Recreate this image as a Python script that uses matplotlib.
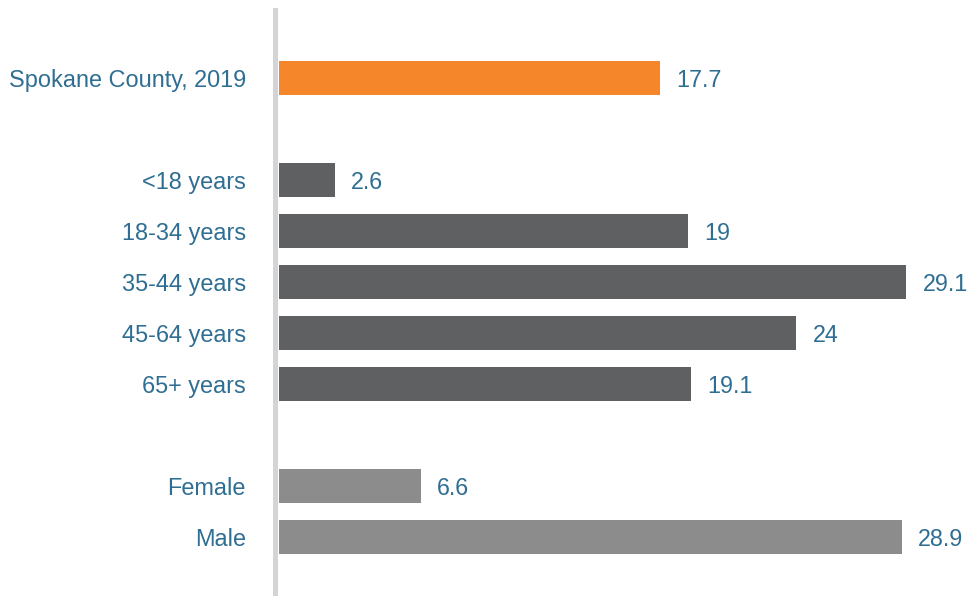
import matplotlib
matplotlib.use("Agg")
import matplotlib.pyplot as plt

# --- data ---
labels = ["Spokane County, 2019", "<18 years", "18-34 years", "35-44 years",
          "45-64 years", "65+ years", "Female", "Male"]
values = [17.7, 2.6, 19, 29.1, 24, 19.1, 6.6, 28.9]
value_text = ["17.7", "2.6", "19", "29.1", "24", "19.1", "6.6", "28.9"]
slots = [0, 2, 3, 4, 5, 6, 8, 9]  # row positions, blank rows between groups
colors = ["#F5862A"] + ["#5F6062"] * 5 + ["#8B8C8B"] * 2

text_color = "#2F6E93"
plt.rcParams["font.family"] = ["Liberation Sans", "DejaVu Sans"]

fig = plt.figure(figsize=(9.69, 5.96), dpi=100)
ax = fig.add_axes([278.5 / 969, 0, 1 - 278.5 / 969, 1 - 10 / 596])

ax.barh(slots, values, height=0.67, color=colors, zorder=2)
for y, v, t in zip(slots, values, value_text):
    ax.text(v + 0.75, y + 0.05, t, va="center", ha="left", fontsize=16.8, color=text_color)

ax.set_ylim(10.16, -1.33)
ax.set_xlim(0, 32.0)
ax.set_yticks(slots, labels)
ax.tick_params(axis="y", length=0, pad=21, labelsize=16.9, labelcolor=text_color)
ax.set_xticks([])

for side in ["top", "right", "bottom"]:
    ax.spines[side].set_visible(False)
ax.spines["left"].set_color("#D4D4D6")
ax.spines["left"].set_linewidth(3.6)
ax.spines["left"].set_position(("outward", 2.5))

fig.savefig("out.png", dpi=100)
